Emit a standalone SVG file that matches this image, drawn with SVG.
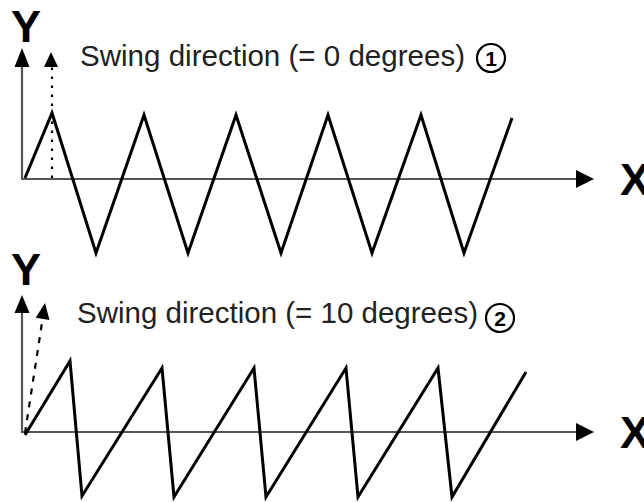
<svg xmlns="http://www.w3.org/2000/svg" width="644" height="502" viewBox="0 0 644 502">
  <style>
    .axis { stroke: #555; stroke-width: 2.2; fill: none; }
    .head { fill: #000; stroke: none; }
    .wave { stroke: #000; stroke-width: 3; fill: none; stroke-linejoin: miter; stroke-miterlimit: 10; }
    .dir  { stroke: #000; stroke-width: 2.2; fill: none; }
    .lbl  { font-family: "Liberation Sans", Arial, sans-serif; font-weight: bold; font-size: 45px; fill: #000; }
    .cap  { font-family: "Liberation Sans", Arial, sans-serif; font-size: 29px; fill: #222; }
    .num  { font-family: "Liberation Sans", Arial, sans-serif; font-weight: bold; font-size: 21px; fill: #000; text-anchor: middle; }
    .ring { fill: none; stroke: #000; stroke-width: 2.2; }
  </style>
  <rect width="644" height="502" fill="#fff"/>

  <g id="chart1">
    <g id="axes1">
      <line class="axis" x1="22" y1="64" x2="22" y2="179"/>
      <polygon class="head" points="22,48 14.5,67 29.5,67"/>
      <line class="axis" x1="21" y1="179" x2="578" y2="179"/>
      <polygon class="head" points="594,179 576,170 576,188"/>
      <text class="lbl" x="11" y="42">Y</text>
      <text class="lbl" x="620" y="195">X</text>
    </g>
    <g id="direction1">
      <line class="dir" x1="52" y1="178" x2="52" y2="67" stroke-dasharray="2.5 6.5"/>
      <polygon class="head" points="51,52 44,67 58,67"/>
    </g>
    <g id="caption1">
      <text class="cap" x="80" y="66" textLength="385" lengthAdjust="spacingAndGlyphs">Swing direction (= 0 degrees)</text>
      <circle class="ring" cx="491" cy="58" r="14"/>
      <text class="num" x="491" y="65.5">1</text>
    </g>
    <polyline id="wave1" class="wave" points="25,178 52,113 96,253 144,115 188,253 236,115 281,253 328,115 372,253 421,115 464,253 512,118"/>
  </g>

  <g id="chart2">
    <g id="axes2">
      <line class="axis" x1="22" y1="311" x2="22" y2="433"/>
      <polygon class="head" points="22,295 14.5,313 29.5,313"/>
      <line class="axis" x1="21" y1="432" x2="578" y2="432"/>
      <polygon class="head" points="594,432 576,423 576,441"/>
      <text class="lbl" x="11" y="285">Y</text>
      <text class="lbl" x="620" y="448">X</text>
    </g>
    <g id="direction2">
      <line class="dir" x1="25" y1="433" x2="42.6" y2="318.8" stroke-dasharray="6 7"/>
      <polygon class="head" points="45,303 35.7,317.7 49.5,319.9"/>
    </g>
    <g id="caption2">
      <text class="cap" x="77" y="323" textLength="401" lengthAdjust="spacingAndGlyphs">Swing direction (= 10 degrees)</text>
      <circle class="ring" cx="500" cy="318" r="14"/>
      <text class="num" x="500" y="325.5">2</text>
    </g>
    <polyline id="wave2" class="wave" points="25,435 70,361 82,496 162,368 174,497 254,368 266,497 346,368 358,497 438,368 452,497 526,372"/>
  </g>
</svg>
